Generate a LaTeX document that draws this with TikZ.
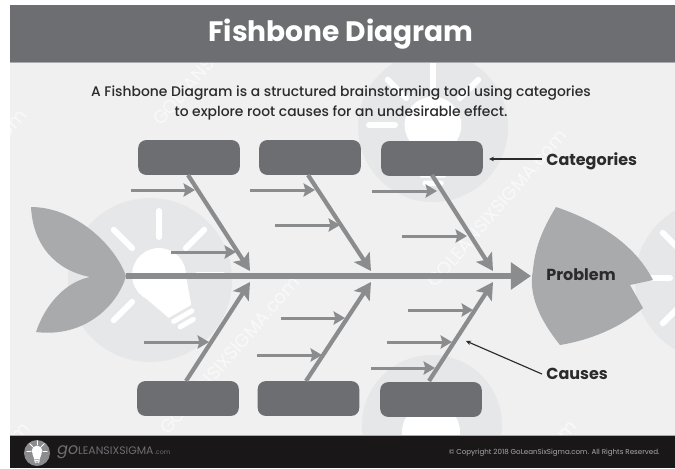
\documentclass[tikz,border=0pt]{standalone}
\usepackage{fontspec}
\setmainfont{Poppins}
\newfontfamily\mediumfont{Poppins Medium}
\usetikzlibrary{arrows.meta}
\usetikzlibrary{calc}
\definecolor{bodygray}{HTML}{F0F0F0}
\definecolor{mistgray}{HTML}{E6E7E8}
\definecolor{slategray}{HTML}{6D6E71}
\definecolor{bonegray}{HTML}{8B8C8E}
\definecolor{fingray}{HTML}{A9AAAC}
\definecolor{inkgray}{HTML}{2B2A2C}
\definecolor{footgray}{HTML}{1A1718}
\newcommand{\bulbhead}[5]{\begin{scope}[shift={(#1,#2)},scale=#3,rotate=#4]
\fill[#5] (0,0) circle (27);
\fill[#5] (-23,14) -- (-13,42) -- (13,42) -- (23,14) -- cycle;
\fill[#5,rounded corners=1] (-13,45) rectangle (13,50);
\fill[#5,rounded corners=1] (-10,53) rectangle (10,58);
\end{scope}}
\newcommand{\bulbrays}[5]{\foreach \ang in {#4} {
\draw[#5,line width=#3*3.4pt,line cap=round] ($(#1,#2)+(\ang:#3*38 and -#3*38)$) -- ($(#1,#2)+(\ang:#3*64 and -#3*64)$);}}
\tikzset{
    catbox/.style={fill=slategray,rounded corners=4.5pt,minimum width=57.8pt,minimum height=19.8pt,inner sep=0pt},
    bone/.style={draw=bonegray,line width=2.4pt,-{Stealth[length=9.5pt,width=10.5pt,inset=2pt]}},
    cause/.style={draw=bonegray,line width=1.7pt,-{Stealth[length=6.5pt,width=7.5pt,inset=1pt]}},
    pointer/.style={draw=inkgray,line width=.65pt,-{Stealth[length=2.8pt,width=2.6pt]}},
    label/.style={font=\bfseries\fontsize{9.1}{10}\selectfont,text=inkgray,anchor=west,inner sep=0pt},
    markstamp/.style={font=\fontsize{10.5}{12}\selectfont,text=white,opacity=.6,rotate=49,anchor=west,inner sep=0pt},
}
\begin{document}
\begin{tikzpicture}[x=0.02cm,y=-0.02cm]
    \useasboundingbox (0,0) rectangle (675,468);
    \fill[white] (0,0) rectangle (675,468);
    \fill[bodygray] (10,62) rectangle (675,435);
    \begin{scope}
    \clip (10,62) rectangle (675,435);
    %faint bulbs
    \foreach \cx/\cy/\rad in {150/280/82, 433/127/75, 432/425/70, 715/280/80} {
        \fill[mistgray] (\cx,\cy) circle (\rad);}
    \bulbhead{159}{275}{1}{30}{white}
    \bulbrays{159}{275}{1}{0,45,90,135,180,225}{white}
    \bulbhead{433}{125}{1.05}{0}{white}
    \bulbrays{433}{125}{1}{45,90,135,180}{white}
    \fill[white] (431,432) circle (29);
    \bulbrays{708}{278}{1}{135,180,225}{white}
    %stamps
    \foreach \sx/\sy in {163/432, 430/285, 156/123, -110/265, 440/576, -107/578} {
        \node[markstamp] at (\sx,\sy) {GOLEANSIXSIGMA.com};}
    \end{scope}

    %tail and head
    \fill[fingray] (31,207) .. controls (75,207) and (115,245) .. (126,276) .. controls (118,305) and (85,338) .. (36,332) .. controls (45,305) and (65,282) .. (90,277) .. controls (55,270) and (33,245) .. (31,207) -- cycle;
    \fill[fingray] (556,207) .. controls (600,222) and (635,245) .. (653,280) -- (630,285) -- (643,308) .. controls (620,328) and (590,340) .. (560,345) .. controls (540,320) and (528,295) .. (533,270) .. controls (535,245) and (545,225) .. (556,207) -- cycle;

    %boxes
    \node[catbox] (topa) at (189,157.5) {};
    \node[catbox] (topb) at (310,157.5) {};
    \node[catbox] (topc) at (432,158.5) {};
    \node[catbox] (bota) at (188,398.5) {};
    \node[catbox] (botb) at (308.5,398.5) {};
    \node[catbox] (botc) at (431,399.5) {};

    %spine and bones
    \coordinate (tailend) at (126,276);
    \coordinate (headend) at (531,276);
    \draw[draw=bonegray,line width=3.7pt,-{Triangle[length=11.5pt,width=15pt]}] (tailend) -- (headend);
    \foreach \nm/\xs/\xe in {a/188/250, b/308/371, c/432/493} {
        \coordinate (top\nm tip) at (\xe,271);
        \coordinate (top\nm root) at (\xs,175);
        \draw[bone] (top\nm root) -- (top\nm tip);}
    \foreach \nm/\xs/\xe in {a/186/250, b/306/371, c/429/493} {
        \coordinate (bot\nm tip) at (\xe,282);
        \coordinate (bot\nm root) at (\xs,381);
        \draw[bone] (bot\nm root) -- (bot\nm tip);}

    %causes
    \foreach \nm/\xa/\xb/\yy in {p/131/195/190, q/171/236/252, r/250/315/190, s/275/340/225, t/372/437/191, u/402/467/236,
        v/144/209/342, w/257/322/355, x/281/345/318, y/371/435/368, z/387/452/342, o/408/473/310} {
        \coordinate (\nm start) at (\xa,\yy);
        \coordinate (\nm end) at (\xb,\yy);
        \draw[cause] (\nm start) -- (\nm end);}

    %labels
    \node[label] (categories) at (546,161) {Categories};
    \node[label] (problem) at (546,275) {Problem};
    \node[label] (causes) at (546,374) {Causes};
    \coordinate (cattip) at (489,159);
    \coordinate (causetip) at (466,341);
    \draw[pointer] ([xshift=-2.3pt]categories.west |- cattip) -- (cattip);
    \draw[pointer] ([xshift=-2.3pt]causes.west) -- (causetip);

    %header
    \fill[slategray] (10,5) rectangle (675,62);
    \draw[fingray,line width=.5pt] (10,62) -- (675,62);
    \node[font=\bfseries\fontsize{16}{18}\selectfont,text=white] (title) at (341,34) {Fishbone Diagram};
    \node[font=\mediumfont\fontsize{7.9}{11.3}\selectfont,text=inkgray,align=center] (subtitle) at (341,103) {A Fishbone Diagram is a structured brainstorming tool using categories\\to explore root causes for an undesirable effect.};

    %footer
    \fill[footgray] (10,435) rectangle (675,468);
    \draw[fingray,line width=.5pt] (10,435) -- (675,435);
    \fill[bonegray] (37,453) circle (13);
    \bulbhead{37}{451}{.2}{0}{white}
    \bulbrays{37}{451}{.16}{0,45,90,135,180}{white}
    \node[font=\fontsize{6.2}{7}\selectfont,text=slategray,anchor=west,inner sep=0pt] (brand) at (57,452) {{\itshape\fontsize{9}{9}\selectfont go}LEANSIXSIGMA{\fontsize{3.6}{4}\selectfont\,.com}};
    \node[font=\fontsize{4.05}{5}\selectfont,text=fingray,anchor=east,inner sep=0pt] (copyright) at (660,453) {© Copyright 2018 GoLeanSixSigma.com. All Rights Reserved.};
\end{tikzpicture}
\end{document}
